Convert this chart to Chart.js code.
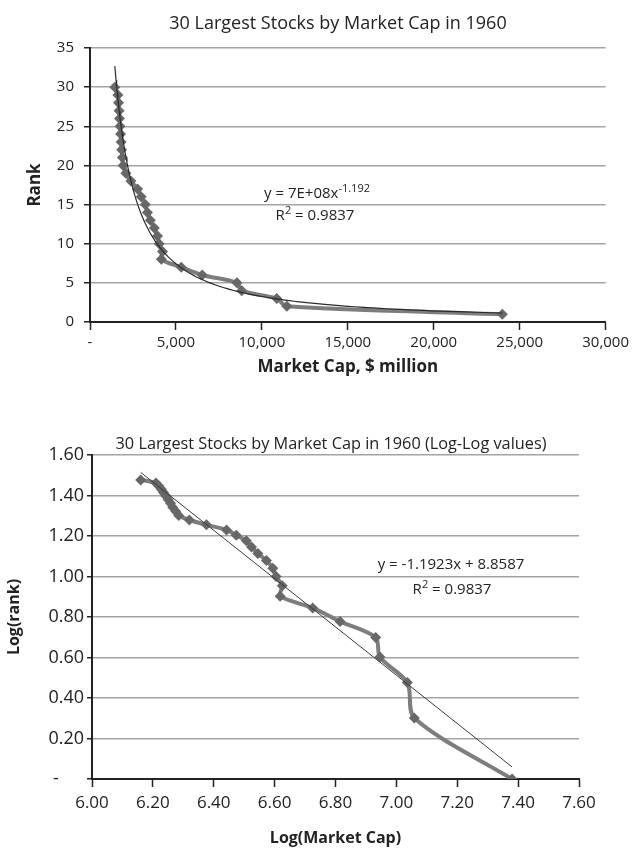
<!DOCTYPE html>
<html>
<head>
<meta charset="utf-8">
<script src="https://cdn.jsdelivr.net/npm/chart.js@4.4.1/dist/chart.umd.min.js"></script>
<style>
  body { margin: 0; background: #fff; font-family: "Open Sans", Lato, sans-serif; color: #222; }
  #page { position: relative; width: 633px; height: 851px; overflow: hidden; }
  canvas { position: absolute; left: 0; }
  .title { position: absolute; font-size: 16px; white-space: nowrap; transform: translate(-50%, -50%); }
  .eq { position: absolute; font-size: 15px; white-space: nowrap; transform: translate(-50%, -50%); line-height: 1; }
  .eq sup { font-size: 11px; vertical-align: 6px; line-height: 0; }
</style>
</head>
<body>
<div id="page">
  <canvas id="rankChart" width="633" height="400" style="top:0"></canvas>
  <canvas id="logChart" width="633" height="431" style="top:420px"></canvas>
  <div class="title" style="left:338px; top:22px; font-size:18px">30 Largest Stocks by Market Cap in 1960</div>
  <div class="title" style="left:331px; top:443px; font-size:16.3px">30 Largest Stocks by Market Cap in 1960 (Log-Log values)</div>
  <div class="eq" style="left:317px; top:192px">y = 7E+08x<sup>-1.192</sup></div>
  <div class="eq" style="left:315px; top:214px">R<sup>2</sup> = 0.9837</div>
  <div class="eq" style="left:451px; top:563px">y = -1.1923x + 8.8587</div>
  <div class="eq" style="left:452px; top:588px">R<sup>2</sup> = 0.9837</div>
</div>
<script>
// Rank 1..30 and market cap ($ million)
const ranks = [1, 2, 3, 4, 5, 6, 7, 8, 9, 10, 11, 12, 13, 14, 15,
  16, 17, 18, 19, 20, 21, 22, 23, 24, 25, 26, 27, 28, 29, 30];
const marketCap = [23990, 11455, 10865, 8830, 8550, 6530, 5310, 4150, 4217, 4027,
  3926, 3741, 3508, 3342, 3214, 2979, 2767, 2377, 2089, 1928,
  1884, 1841, 1811, 1778, 1750, 1718, 1690, 1660, 1622, 1445];

// Log-log values from the second chart
const logMarketCap = [7.380, 7.059, 7.036, 6.946, 6.932, 6.815, 6.725, 6.618, 6.625, 6.605,
  6.594, 6.573, 6.545, 6.524, 6.507, 6.474, 6.442, 6.376, 6.320, 6.285,
  6.275, 6.265, 6.258, 6.250, 6.243, 6.235, 6.228, 6.220, 6.210, 6.160];
const logRank = [0.000, 0.301, 0.477, 0.602, 0.699, 0.778, 0.845, 0.903, 0.954, 1.000,
  1.041, 1.079, 1.114, 1.146, 1.176, 1.204, 1.230, 1.255, 1.279, 1.301,
  1.322, 1.342, 1.362, 1.380, 1.398, 1.415, 1.431, 1.447, 1.462, 1.477];

// Trendline as printed on the chart: y = -1.1923x + 8.8587 (log-log)
const fitSlope = -1.1923;
const fitIntercept = 8.8587;

const ink = '#222';
const gridGray = '#a3a3a3';
const seriesLine = '#7d7d7d';
const seriesMarker = '#676767';
const fontFamily = '"Open Sans", Lato, sans-serif';

Chart.defaults.font.family = fontFamily;
Chart.defaults.color = ink;

// Power trendline sampled across the data range
function powerTrend() {
  const lo = Math.min(...marketCap), hi = Math.max(...marketCap);
  const pts = [];
  const n = 120;
  for (let i = 0; i <= n; i++) {
    const cap = lo * Math.pow(hi / lo, i / n);
    pts.push({ x: cap, y: Math.pow(10, fitIntercept + fitSlope * Math.log10(cap * 1000)) });
  }
  return pts;
}

function linearTrend() {
  const lo = Math.min(...logMarketCap), hi = Math.max(...logMarketCap);
  return [lo, hi].map(x => ({ x: x, y: fitIntercept + fitSlope * x }));
}

function seriesStyle() {
  return {
    showLine: true,
    borderColor: seriesLine,
    borderWidth: 4,
    backgroundColor: seriesMarker,
    pointStyle: 'rectRot',
    pointRadius: 5.5,
    pointBorderWidth: 0,
    tension: 0.3,
    order: 1
  };
}

// Top chart: rank vs market cap
new Chart(document.getElementById('rankChart'), {
  type: 'scatter',
  data: {
    datasets: [
      { label: 'Power trend', data: powerTrend(), showLine: true, borderColor: '#2a2a2a',
        borderWidth: 1.2, pointRadius: 0, tension: 0, order: 0 },
      Object.assign({ label: 'Rank', data: ranks.map((r, i) => ({ x: marketCap[i], y: r })) }, seriesStyle())
    ]
  },
  options: {
    responsive: false,
    animation: false,
    layout: { padding: { top: 48, right: 26, left: 0, bottom: 0 } },
    plugins: { legend: { display: false }, tooltip: { enabled: false } },
    scales: {
      x: {
        type: 'linear', min: 0, max: 30000,
        ticks: { stepSize: 5000, font: { size: 15 }, color: ink, padding: 4, maxRotation: 0,
          callback: v => v === 0 ? '-' : v.toLocaleString('en-US') },
        grid: { drawOnChartArea: false, drawTicks: true, tickLength: 8, tickColor: ink, tickWidth: 1.5 },
        border: { color: ink, width: 2 },
        title: { display: true, text: 'Market Cap, $ million', font: { size: 17, weight: 'bold' }, color: ink,
          padding: { top: 0, bottom: 23 } },
        afterFit: s => { s.height = 78; }
      },
      y: {
        min: 0, max: 35,
        ticks: { stepSize: 5, font: { size: 15 }, color: ink, padding: 10 },
        grid: { color: gridGray, lineWidth: 1.5, tickLength: 6, tickColor: ink, tickWidth: 1.5 },
        border: { color: ink, width: 2 },
        title: { display: true, text: 'Rank', font: { size: 17, weight: 'bold' }, color: ink,
          padding: { top: 25, bottom: 0 } },
        afterFit: s => { s.width = 90; }
      }
    }
  }
});

// Bottom chart: log(rank) vs log(market cap)
new Chart(document.getElementById('logChart'), {
  type: 'scatter',
  data: {
    datasets: [
      { label: 'Linear trend', data: linearTrend(), showLine: true, borderColor: '#3a3a3a',
        borderWidth: 1, pointRadius: 0, tension: 0, order: 0 },
      Object.assign({ label: 'Log(rank)', data: logRank.map((r, i) => ({ x: logMarketCap[i], y: r })) }, seriesStyle())
    ]
  },
  options: {
    responsive: false,
    animation: false,
    layout: { padding: { top: 35, right: 54, left: 0, bottom: 0 } },
    plugins: { legend: { display: false }, tooltip: { enabled: false } },
    scales: {
      x: {
        type: 'linear', min: 6, max: 7.6,
        ticks: { stepSize: 0.2, font: { size: 17 }, color: ink, padding: 6, maxRotation: 0,
          callback: v => v.toFixed(2) },
        grid: { drawOnChartArea: false, drawTicks: true, tickLength: 8, tickColor: ink, tickWidth: 1.5 },
        border: { color: ink, width: 2 },
        title: { display: true, text: 'Log(Market Cap)', font: { size: 16, weight: 'bold' }, color: ink,
          padding: { top: 0, bottom: 3 } },
        afterFit: s => { s.height = 72; }
      },
      y: {
        min: 0, max: 1.6,
        ticks: { stepSize: 0.2, font: { size: 18 }, color: ink, padding: 3,
          callback: v => v === 0 ? '-\u2007\u2007 ' : v.toFixed(2) },
        grid: { color: gridGray, lineWidth: 1.5, tickLength: 5, tickColor: ink, tickWidth: 1.5 },
        border: { color: ink, width: 2 },
        title: { display: true, text: 'Log(rank)', font: { size: 16, weight: 'bold' }, color: ink,
          padding: { top: 5, bottom: 0 } },
        afterFit: s => { s.width = 92; }
      }
    }
  }
});
</script>
</body>
</html>
